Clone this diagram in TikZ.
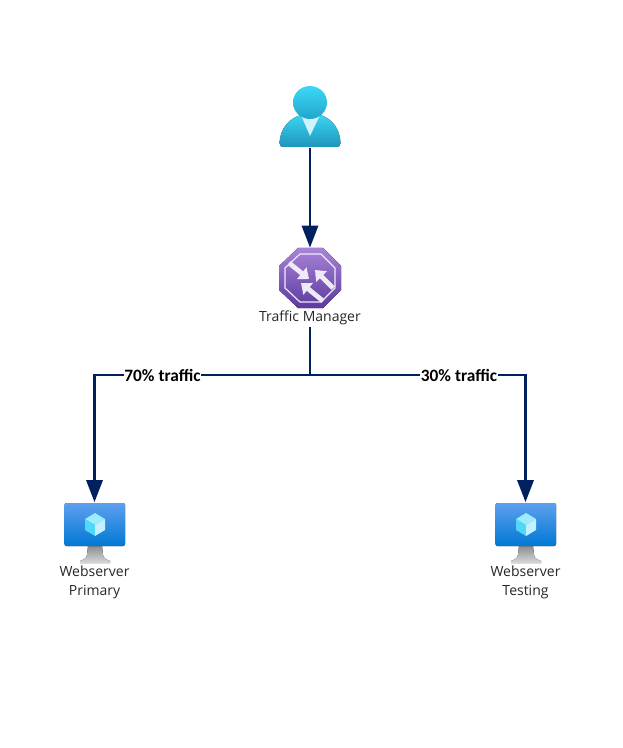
\documentclass[tikz,border=0pt]{standalone}
\usepackage{fontspec}
\setmainfont{Open Sans}
\newfontfamily\edgefont{Carlito}
\usetikzlibrary{arrows.meta}
\definecolor{navyline}{HTML}{002060}
\definecolor{usertop}{HTML}{3CD4F2}
\definecolor{userbot}{HTML}{1E95BA}
\definecolor{headtop}{HTML}{3CD8F5}
\definecolor{headbot}{HTML}{22A5CC}
\definecolor{tmtop}{HTML}{A884D8}
\definecolor{tmbot}{HTML}{5C3A9E}
\definecolor{montop}{HTML}{5EA0EF}
\definecolor{monbot}{HTML}{0078D4}
\definecolor{standtop}{HTML}{8E8E8E}
\definecolor{standbot}{HTML}{D8D8D8}
\definecolor{cubetop}{HTML}{9CEBFF}
\definecolor{cubeleft}{HTML}{50D8F8}
\definecolor{cuberight}{HTML}{C3F1FF}
\definecolor{tmwhite}{HTML}{F0EAF8}
\tikzset{
  px/.style={x=0.75pt,y=-0.75pt},
  iconbox/.style={inner sep=0pt,minimum width=46.5pt,minimum height=46.5pt},
  caption/.style={font=\fontsize{10.5pt}{14pt}\selectfont,text=black!85,align=center,inner sep=0pt},
  flowlabel/.style={font=\edgefont\bfseries\fontsize{13pt}{15pt}\selectfont,fill=white,inner sep=0.4pt},
  flow/.style={draw=navyline,line width=2.2pt},
  flowarrow/.style={flow,-{Triangle[length=16.5pt,width=12pt]}},
  tmarrow/.style={draw=tmwhite,line width=3.6pt,-{Triangle[length=7pt,width=11pt]}}
}
\newcommand{\serverart}[2]{%
  \begin{scope}[shift={(#1,#2)}]
    \fill[top color=standtop,bottom color=standbot] (-7,43) -- (7,43) -- (8,52) .. controls (9,56) and (12,57) .. (15,58) -- (15,60) -- (-15,60) -- (-15,58) .. controls (-12,57) and (-9,56) .. (-8,52) -- cycle;
    \fill[rounded corners=1.5pt,top color=montop,bottom color=monbot] (-30.5,0) rectangle (30,43);
    \fill[cubetop] (0,10) -- (10,16) -- (0,22) -- (-10,16) -- cycle;
    \fill[cubeleft] (-10,16) -- (0,22) -- (0,33) -- (-10,27) -- cycle;
    \fill[cuberight] (10,16) -- (0,22) -- (0,33) -- (10,27) -- cycle;
  \end{scope}}
\begin{document}
\begin{tikzpicture}[px]
\useasboundingbox (0,0) rectangle (623,748);

% icons' anchor nodes
\node[iconbox] (user) at (310,116.5) {};
\node[iconbox,minimum height=45pt] (tm) at (310,278) {};
\node[iconbox,minimum height=45pt] (primary) at (94.5,532.5) {};
\node[iconbox,minimum height=45pt] (testing) at (525.5,532.5) {};

% user icon
\fill[top color=usertop,bottom color=userbot] (279.5,143) .. controls (280,128) and (290,118) .. (301,115) -- (320,115) .. controls (331,118) and (340,128) .. (340.5,143) .. controls (340.5,145.5) and (339,147) .. (337,147) -- (283,147) .. controls (281,147) and (279.5,145.5) .. (279.5,143) -- cycle;
\fill[cuberight!80!white] (301,115) -- (320,115) -- (310,136) -- cycle;
\shade[top color=headtop,bottom color=headbot] (310,102.5) ellipse[x radius=17,y radius=16.5];

% traffic manager icon
\fill[top color=tmtop,bottom color=tmbot] (298,248) -- (323,248) -- (341,266) -- (341,290) -- (323,308) -- (298,308) -- (279,290) -- (279,266) -- cycle;
\draw[tmwhite,line width=0.9pt] (300,254) -- (321,254) -- (335,268) -- (335,288) -- (321,302) -- (300,302) -- (285,288) -- (285,268) -- cycle;
\draw[tmarrow] (289,263) -- (309,279);
\draw[tmarrow] (333,288) -- (315,270);
\draw[tmarrow] (323,301) -- (301,283);

\node[caption] (tmlabel) at (310,318) {Traffic Manager};

% server icons
\serverart{95}{503}
\serverart{526}{503}
\node[caption] (primarylabel) at (94.5,582.5) {Webserver\\Primary};
\node[caption] (testinglabel) at (525.5,582.5) {Webserver\\Testing};

% connectors
\coordinate (split) at (310,375);
\draw[flowarrow] (user.south) -- (tm.north);
\draw[flow] (tmlabel.south |- 310,327) -- (split);
\draw[flowarrow] (split) -| (primary.north);
\draw[flowarrow] (split) -| (testing.north);
\node[flowlabel] (l70) at (162.5,375) {70\% traffic};
\node[flowlabel] (l30) at (459,375) {30\% traffic};
\end{tikzpicture}
\end{document}
